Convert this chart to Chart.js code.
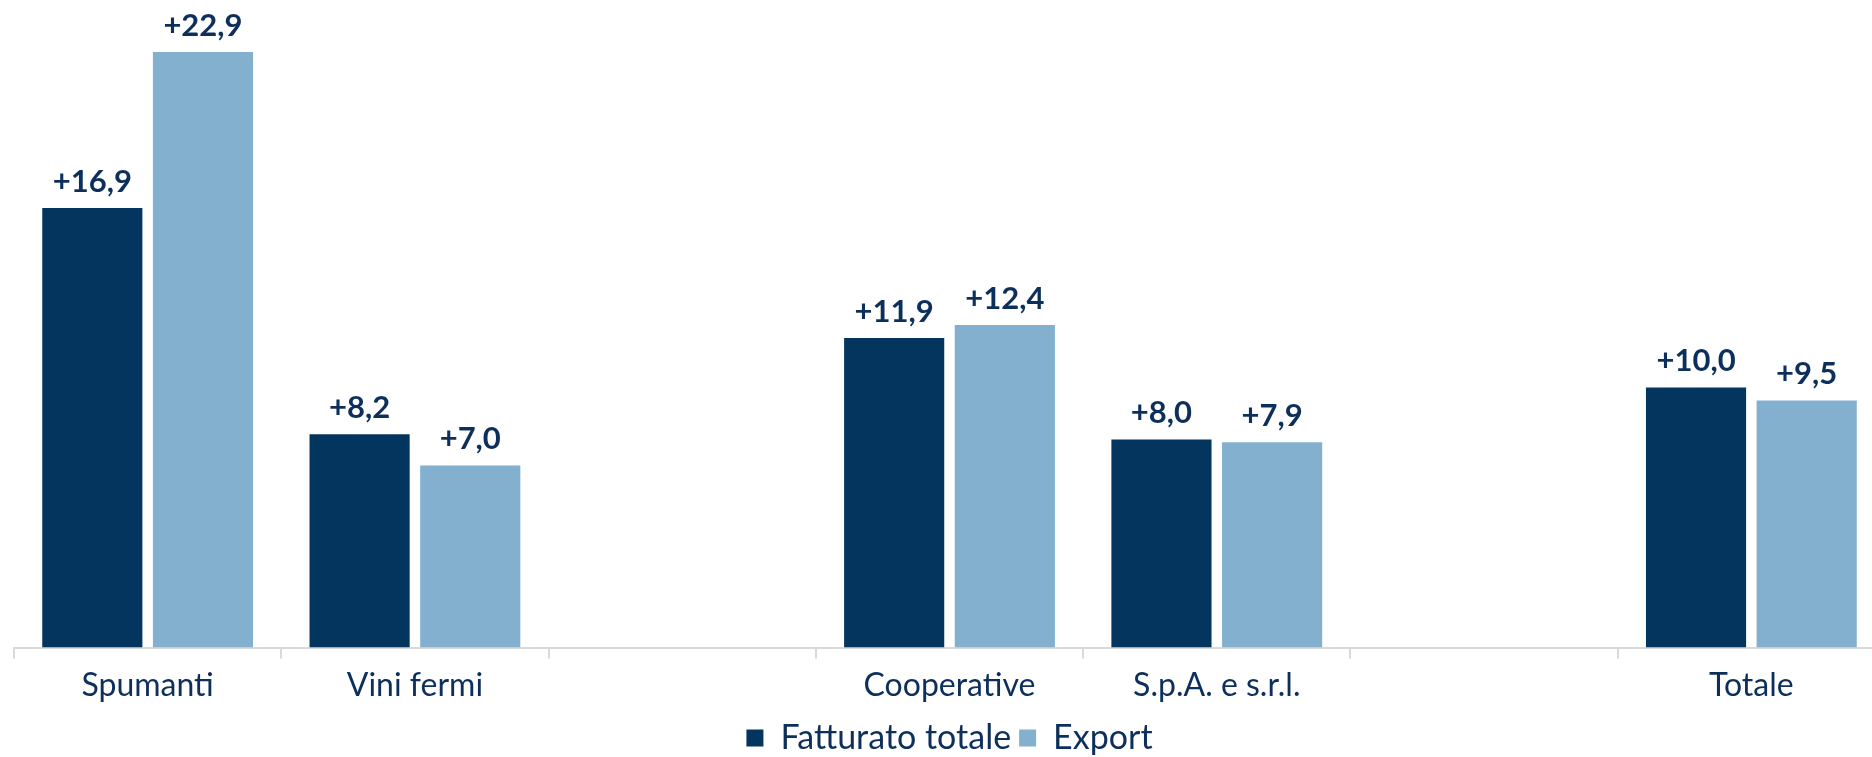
<!DOCTYPE html>
<html>
<head>
<meta charset="utf-8">
<script src="https://cdn.jsdelivr.net/npm/chart.js@4"></script>
<style>
  html, body { margin: 0; padding: 0; background: #fff; overflow: hidden; }
  canvas { display: block; }
</style>
</head>
<body>
<canvas id="chart" width="1908" height="765"></canvas>
<script>
const categories = ['Spumanti', 'Vini fermi', '', 'Cooperative', 'S.p.A. e s.r.l.', '', 'Totale'];
const fatturato = [16.9, 8.2, null, 11.9, 8.0, null, 10.0];
const exportVals = [22.9, 7.0, null, 12.4, 7.9, null, 9.5];

const darkBlue = '#03355f';
const lightBlue = '#83b0ce';
const textBlue = '#0d2f5c';
const fontFamily = 'Lato, "Open Sans", sans-serif';

function fmt(v) {
    return '+' + v.toFixed(1).replace('.', ',');
}

// draws the value over each bar
const barLabels = {
    id: 'barLabels',
    afterDatasetsDraw(chart) {
        const ctx = chart.ctx;
        ctx.save();
        ctx.font = 'bold 31px ' + fontFamily;
        ctx.fillStyle = textBlue;
        ctx.textAlign = 'center';
        ctx.textBaseline = 'bottom';
        chart.data.datasets.forEach((ds, i) => {
            const meta = chart.getDatasetMeta(i);
            meta.data.forEach((bar, j) => {
                const v = ds.data[j];
                if (v === null) return;
                ctx.fillText(fmt(v), bar.x, bar.y - 11);
            });
        });
        ctx.restore();
    }
};

new Chart(document.getElementById('chart').getContext('2d'), {
    type: 'bar',
    data: {
        labels: categories,
        datasets: [
            {
                label: 'Fatturato totale',
                data: fatturato,
                backgroundColor: darkBlue,
                categoryPercentage: 0.828,
                barPercentage: 0.905
            },
            {
                label: 'Export',
                data: exportVals,
                backgroundColor: lightBlue,
                categoryPercentage: 0.828,
                barPercentage: 0.905
            }
        ]
    },
    options: {
        responsive: false,
        animation: false,
        layout: { padding: { left: 14, right: 23, top: 0, bottom: 0 } },
        scales: {
            x: {
                grid: {
                    offset: true,
                    drawOnChartArea: false,
                    drawTicks: true,
                    tickLength: 11,
                    color: '#d9d9d9',
                    lineWidth: 2
                },
                border: { color: '#d9d9d9', width: 2 },
                ticks: {
                    color: textBlue,
                    font: { family: fontFamily, size: 32 },
                    padding: 8,
                    maxRotation: 0,
                    autoSkip: false
                }
            },
            y: {
                display: false,
                min: 0,
                max: 24.9
            }
        },
        plugins: {
            legend: {
                position: 'bottom',
                labels: {
                    color: textBlue,
                    font: { family: fontFamily, size: 34 },
                    boxWidth: 17,
                    boxHeight: 17,
                    padding: 8
                }
            },
            tooltip: { enabled: false }
        }
    },
    plugins: [barLabels]
});
</script>
</body>
</html>
